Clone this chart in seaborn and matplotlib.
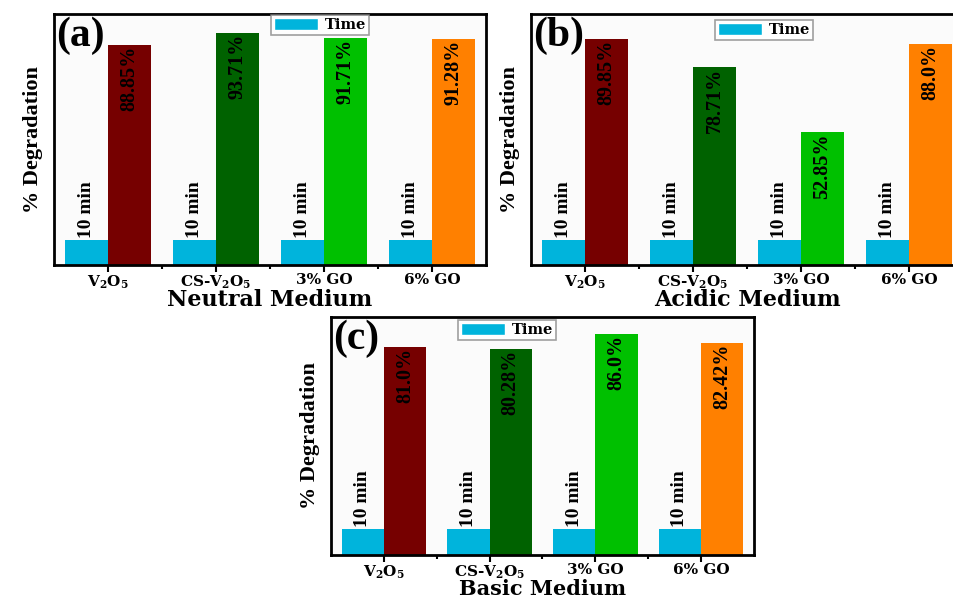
import numpy as np
import pandas as pd
import matplotlib
matplotlib.use("Agg")
import matplotlib.pyplot as plt
import seaborn as sns
from matplotlib.patches import Patch

# -------------------------------
# Datos
# -------------------------------
samples = ["V2O5", "CS-V2O5", "3% GO", "6% GO"]
tick_labels = [r"V$_2$O$_5$", r"CS-V$_2$O$_5$", "3% GO", "6% GO"]
time_min = [10, 10, 10, 10]
deg_neutral = [88.85, 93.71, 91.71, 91.28]
deg_acidic = [89.85, 78.71, 52.85, 88.0]
deg_basic = [81.0, 80.28, 86.0, 82.42]
media = ["Neutral Medium", "Acidic Medium", "Basic Medium"]
panel_tags = ["(a)", "(b)", "(c)"]

time_color = "#00B4DC"
deg_colors = ["#760000", "#006200", "#00C000", "#FF8000"]

sns.set_style("white")
plt.rcParams["mathtext.fontset"] = "dejavuserif"
plt.rcParams["mathtext.default"] = "bf"
plt.rcParams["text.color"] = "black"
plt.rcParams["axes.labelcolor"] = "black"
plt.rcParams["xtick.color"] = "black"

SERIF_T = "Liberation Serif"
SERIF_W = "DejaVu Serif"

fig = plt.figure(figsize=(9.54, 5.98), dpi=100)

# posiciones de los paneles en px (izq, arriba, ancho, alto)
W, H = 954, 598
boxes = [(54, 14, 432, 251), (531, 14, 432, 251), (331, 317, 423, 238)]
ylims = [101.4, 100.0, 92.6]
legend_pos = [(0.616, 0.956), (0.54, 0.938), (0.416, 0.945)]
xlabel_sizes = [16, 16, 15]


def draw_panel(ax, deg, medium, tag, ymax, leg_xy, xsize):
	df = pd.DataFrame({
		"sample": samples * 2,
		"value": list(time_min) + list(deg),
		"series": ["Time"] * 4 + ["Degradation"] * 4,
	})
	sns.barplot(data=df, x="sample", y="value", hue="series",
				hue_order=["Time", "Degradation"],
				palette={"Time": time_color, "Degradation": deg_colors[0]},
				width=0.8, saturation=1, linewidth=0, legend=False, ax=ax)
	for p, c in zip(ax.containers[1], deg_colors):
		p.set_facecolor(c)

	# etiquetas de barras
	for p in ax.containers[0]:
		xc = p.get_x() + p.get_width() / 2
		ax.text(xc, p.get_height() + 0.8, "10 min", rotation=90, ha="center",
				va="bottom", fontsize=14, fontweight="bold", family=SERIF_T,
				color="black")
	for p, v in zip(ax.containers[1], deg):
		xc = p.get_x() + p.get_width() / 2
		ax.text(xc, p.get_height() - 0.3, f"{v}%", rotation=90, ha="center",
				va="top", fontsize=14.5, fontweight="bold", family=SERIF_T,
				color="black")

	ax.set_xlim(-0.5, 3.5)
	ax.set_ylim(0, ymax)
	ax.set_yticks([])
	ax.set_xticks(range(4))
	ax.set_xticklabels(tick_labels, fontsize=11, fontweight="bold", family=SERIF_W)
	ax.set_xticks([0.5, 1.5, 2.5], minor=True)
	ax.tick_params(axis="x", which="major", direction="out", length=5, width=1.5,
				   bottom=True, pad=1, colors="black")
	ax.tick_params(axis="x", which="minor", direction="out", length=3, width=1.5,
				   bottom=True)
	ax.set_xlabel(medium, fontsize=xsize, fontweight="bold", family=SERIF_W,
				  labelpad=-1, color="black")
	ax.set_ylabel("% Degradation", fontsize=16, fontweight="bold", family=SERIF_T,
				  labelpad=8, color="black")
	for s in ax.spines.values():
		s.set_visible(True)
		s.set_color("black")
		s.set_linewidth(2)
	ax.set_facecolor("#fbfbfb")

	ax.text(0.005, 0.99, tag, transform=ax.transAxes, ha="left", va="top",
			fontsize=30, fontweight="bold", family=SERIF_T, color="black")

	leg = ax.legend(handles=[Patch(facecolor=time_color, label="Time")],
					loc="center", bbox_to_anchor=leg_xy, frameon=True,
					fancybox=False, edgecolor="#888888", handlelength=3.0,
					handleheight=0.9, handletextpad=0.5, borderpad=0.2,
					prop={"family": SERIF_W, "weight": "bold", "size": 10.5})
	leg.get_frame().set_linewidth(1.2)
	for t in leg.get_texts():
		t.set_color("black")


for i, deg in enumerate([deg_neutral, deg_acidic, deg_basic]):
	l, t, w, h = boxes[i]
	ax = fig.add_axes([l / W, (H - t - h) / H, w / W, h / H])
	draw_panel(ax, deg, media[i], panel_tags[i], ylims[i], legend_pos[i],
			   xlabel_sizes[i])

fig.savefig("out.png", dpi=100)
